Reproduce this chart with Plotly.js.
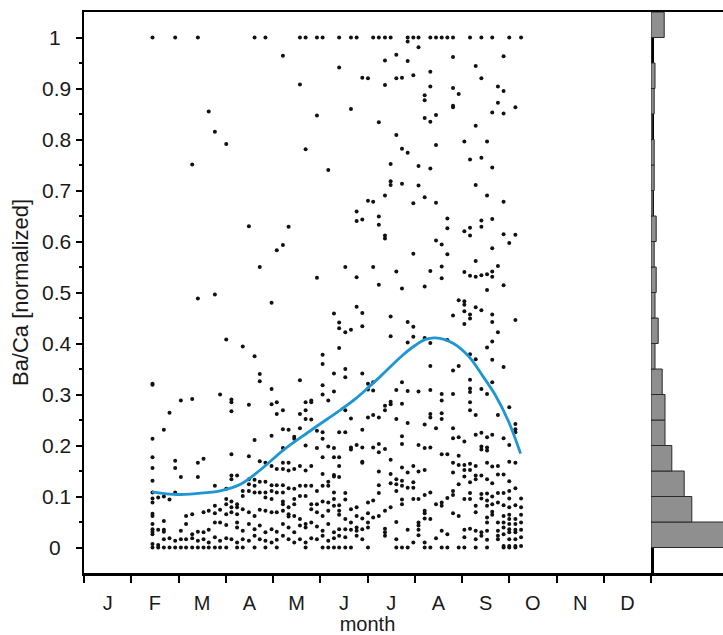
<!DOCTYPE html>
<html><head><meta charset="utf-8">
<script src="https://cdn.plot.ly/plotly-3.0.1.min.js"></script>
<style>html,body{margin:0;padding:0;background:#fff;}#chart{width:723px;height:635px;}</style>
</head><body><div id="chart"></div>
<script>
const monthLabels = ['J','F','M','A','M','J','J','A','S','O','N','D'];

// sampling positions (month, 0 = 1 Jan) and the Ba/Ca values measured at each
const sampleMonth = [1.45,1.57,1.69,1.81,1.93,2.05,2.16,2.29,2.41,2.53,2.64,2.77,2.88,3.01,3.12,3.24,3.36,3.49,3.61,3.72,3.84,3.97,4.08,4.21,4.33,4.45,4.57,4.69,4.81,4.93,5.05,5.17,5.29,5.40,5.53,5.65,5.77,5.89,6.01,6.12,6.24,6.37,6.49,6.61,6.73,6.85,6.97,7.08,7.21,7.33,7.45,7.57,7.69,7.81,7.93,8.05,8.17,8.29,8.41,8.53,8.64,8.76,8.88,9.00,9.13,9.25];
const baCaPerSample = [
 [1.0,0.321,0.319,0.213,0.177,0.156,0.131,0.108,0.096,0.088,0.066,0.062,0.046,0.036,0.031,0.026,0.007,0],
 [0.098,0.035,0.005,0],
 [0.231,0.100,0.052,0.035,0.031,0.016,0],
 [0.264,0.094,0.018,0],
 [1.0,0.170,0.156,0.108,0.013,0],
 [0.288,0.138,0.033,0.016,0],
 [0.062,0.046,0.016,0],
 [0.751,0.291,0.065,0.026,0.018,0],
 [1.0,0.488,0.166,0.138,0.031,0.013,0],
 [0.174,0.069,0.030,0.016,0],
 [0.855,0.072,0.035,0.010,0],
 [0.815,0.496,0.121,0.082,0.067,0.049,0.020,0],
 [0.300,0.074,0.049,0.013,0],
 [0.791,0.408,0.115,0.095,0.085,0.065,0.044,0.018,0],
 [0.290,0.285,0.267,0.183,0.141,0.134,0.090,0.079,0.069,0.016],
 [0.141,0.085,0.079,0.065,0.049,0.039,0.010,0],
 [0.394,0.111,0.101,0.075,0.033,0.016,0],
 [0.630,0.280,0.179,0.134,0.124,0.111,0.069,0.046,0.013],
 [1.0,0.375,0.211,0.133,0.121,0.108,0.062,0.036,0.023,0],
 [0.550,0.340,0.326,0.169,0.129,0.108,0.074,0.043,0.016],
 [1.0,0.166,0.129,0.108,0.098,0.072,0.030,0.013,0],
 [0.480,0.311,0.281,0.219,0.160,0.122,0.111,0.095,0.069,0.036,0.010],
 [0.583,0.285,0.262,0.154,0.122,0.108,0.069,0.031,0.015,0],
 [0.964,0.593,0.269,0.232,0.195,0.166,0.154,0.122,0.108,0.090,0.085,0.072,0.046,0.023],
 [0.629,0.231,0.166,0.151,0.116,0.079,0.065,0.061,0.039,0.016],
 [0.217,0.213,0.154,0.115,0.095,0.085,0.062,0.030,0.010],
 [1.0,0.908,0.328,0.262,0.234,0.160,0.121,0.101,0.056,0.043,0.016],
 [1.0,0.781,0.285,0.269,0.252,0.200,0.151,0.121,0.101,0.046,0.039,0.010,0],
 [0.288,0.285,0.251,0.160,0.121,0.085,0.075,0.049,0.018],
 [1.0,0.847,0.529,0.229,0.195,0.111,0.085,0.069,0.041,0.016],
 [1.0,0.378,0.360,0.318,0.300,0.226,0.213,0.177,0.144,0.121,0.090,0.062,0.033,0.023,0],
 [0.740,0.288,0.198,0.129,0.121,0.088,0.072,0.046,0.013,0],
 [0.459,0.341,0.306,0.195,0.177,0.142,0.139,0.108,0.095,0.082,0.030,0.018,0],
 [1.0,0.941,0.441,0.430,0.391,0.226,0.177,0.160,0.138,0.083,0.072,0.064,0.036,0.023,0],
 [0.550,0.422,0.350,0.334,0.269,0.226,0.107,0.094,0.056,0.036,0.020,0],
 [1.0,0.860,0.427,0.253,0.196,0.192,0.075,0.049,0.035,0],
 [1.0,0.659,0.640,0.530,0.472,0.201,0.079,0.062,0.039,0.033,0.023],
 [0.921,0.643,0.460,0.434,0.341,0.231,0.196,0.168,0.166,0.057,0.036,0.016],
 [0.920,0.680,0.321,0.310,0.255,0.088,0.067,0.049,0.039,0],
 [1.0,0.678,0.550,0.324,0.308,0.260,0.196,0.092,0.059],
 [1.0,0.834,0.649,0.633,0.515,0.255,0.203,0.187,0.149,0.122,0.107,0.062],
 [1.0,0.955,0.907,0.690,0.612,0.606,0.278,0.269,0.193,0.072,0.037,0.030,0.023],
 [1.0,0.752,0.718,0.711,0.453,0.414,0.286,0.281,0.172,0.144,0.126,0.079],
 [0.966,0.920,0.809,0.541,0.309,0.252,0.134,0.124,0.111,0.050,0.016,0],
 [0.921,0.782,0.713,0.508,0.324,0.282,0.218,0.203,0.157,0.131,0.121,0.094,0.085,0],
 [1.0,0.992,0.954,0.774,0.442,0.402,0.307,0.244,0.147,0.117,0.035,0],
 [1.0,0.926,0.675,0.576,0.433,0.413,0.160,0.128,0.117,0.095,0.010],
 [1.0,0.981,0.748,0.710,0.306,0.201,0.149,0.095,0.049,0.043,0.035,0.024],
 [0.887,0.877,0.842,0.687,0.512,0.411,0.241,0.195,0.152,0.103,0.072,0.067,0.057,0.010,0],
 [1.0,0.933,0.904,0.835,0.743,0.542,0.401,0.356,0.309,0.262,0.255,0.196,0.108,0.056,0],
 [1.0,0.848,0.789,0.676,0.602,0.234,0.085,0.018],
 [1.0,0.594,0.551,0.528,0.301,0.288,0.263,0.252,0.183,0.088,0.082,0.033,0],
 [1.0,0.645,0.626,0.575,0.407,0.183,0.097,0.026,0],
 [1.0,0.962,0.901,0.866,0.863,0.455,0.347,0.301,0.234,0.214,0.166,0.147,0.111,0.103,0.067],
 [0.889,0.485,0.356,0.216,0.180,0.162,0.124,0.062,0],
 [0.796,0.620,0.540,0.483,0.476,0.463,0.438,0.208,0.162,0.152,0.139,0.095,0.035,0.020,0],
 [1.0,0.761,0.627,0.612,0.533,0.457,0.449,0.379,0.329,0.312,0.305,0.285,0.269,0.164,0.152,0.128,0.107,0.095,0.037],
 [0.944,0.827,0.711,0.562,0.531,0.471,0.369,0.260,0.221,0.160,0.141,0.134,0.082,0.069,0.033,0.016,0],
 [1.0,0.920,0.764,0.641,0.629,0.534,0.465,0.311,0.225,0.198,0.192,0.141,0.105,0.096,0.030,0.023],
 [0.796,0.690,0.536,0.505,0.392,0.301,0.216,0.196,0.190,0.166,0.134,0.106,0.092,0.082,0.059,0.049,0.033,0.015,0],
 [1.0,0.853,0.745,0.644,0.587,0.541,0.531,0.457,0.442,0.404,0.368,0.324,0.221,0.159,0.126,0.100,0.085,0.070,0.064],
 [0.904,0.872,0.552,0.422,0.260,0.160,0.143,0.107,0.088,0.049,0.033,0.023,0.016],
 [0.963,0.895,0.851,0.678,0.614,0.514,0.354,0.214,0.143,0.107,0.083,0.062,0.049,0.039,0.026,0.003,0],
 [1.0,0.597,0.275,0.201,0.168,0.130,0.111,0.096,0.079,0.064,0.056,0.046,0.036,0.030,0.016,0.003,0],
 [0.863,0.613,0.446,0.242,0.232,0.226,0.166,0.116,0.083,0.056,0.046,0.035,0.030,0.016,0.003,0],
 [1.0,0.096,0.079,0.064,0.049,0.035,0.020,0.003]
];

// smoothed seasonal fit (blue line)
const fitMonth = [1.44,1.89,2.40,2.88,3.31,3.73,4.22,4.73,5.15,5.43,5.75,6.02,6.28,6.72,7.02,7.23,7.44,7.80,8.14,8.44,8.71,8.99,9.24];
const fitValue = [0.109,0.104,0.106,0.111,0.124,0.152,0.191,0.225,0.252,0.270,0.292,0.314,0.336,0.375,0.397,0.408,0.411,0.401,0.375,0.336,0.298,0.246,0.184];

// marginal histogram (bins of 0.05)
const histBinStart = [0,0.05,0.10,0.15,0.20,0.25,0.30,0.35,0.40,0.45,0.50,0.55,0.60,0.65,0.70,0.75,0.80,0.85,0.90,0.95,1.00];
const histCount    = [300,102,83,52,35,35,28,10,18,10,13,8,13,5,8,8,3,8,10,0,33];

const yTickVals = [0,0.1,0.2,0.3,0.4,0.5,0.6,0.7,0.8,0.9,1];
// labels are centred in the reference: short labels get a trailing en space
const yTickText = ['0\u2002','0.1','0.2','0.3','0.4','0.5','0.6','0.7','0.8','0.9','1\u2002'];

const xs = [], ys = [];
sampleMonth.forEach((m, i) => baCaPerSample[i].forEach(v => { xs.push(m); ys.push(v); }));

const FONT = 'Arial, "Liberation Sans", Helvetica, sans-serif';
const TXT = '#1a1a1a';
const W = 723, H = 635, ML = 84, MT = 12, MB = 62;
const split = (651 - ML) / (W - ML);

const monthEdges = [], monthCenters = [];
for (let i = 0; i <= 12; i++) monthEdges.push(i);
for (let i = 0; i < 12; i++) monthCenters.push(i + 0.5);
const yMinor = [];
for (let i = 0; i < 10; i++) yMinor.push(+(i * 0.1 + 0.05).toFixed(2));

const traces = [
  { type: 'scatter', mode: 'markers', x: xs, y: ys, xaxis: 'x', yaxis: 'y',
    marker: { size: 4, color: '#111' }, hoverinfo: 'skip' },
  { type: 'scatter', mode: 'lines', x: fitMonth, y: fitValue, xaxis: 'x', yaxis: 'y',
    line: { color: '#1e96d4', width: 2.8, shape: 'spline', smoothing: 1 } },
  { type: 'bar', orientation: 'h', x: histCount, y: histBinStart.map(b => b + 0.025),
    width: 0.05, xaxis: 'x2', yaxis: 'y',
    marker: { color: '#8f8f8f', line: { color: '#2a2a2a', width: 1 } } }
];

const layout = {
  width: W, height: H,
  margin: { l: ML, r: 0, t: MT, b: MB, pad: 0 },
  paper_bgcolor: '#fff', plot_bgcolor: '#fff',
  showlegend: false,
  font: { family: FONT, size: 20, color: TXT },
  bargap: 0,
  xaxis: {
    domain: [0, split], range: [0, 12], anchor: 'y',
    showline: true, linecolor: '#000', linewidth: 2.5, mirror: true,
    showgrid: false, zeroline: false,
    tickmode: 'array', tickvals: monthCenters, ticktext: monthLabels,
    ticks: 'outside', ticklen: 10, tickcolor: 'rgba(0,0,0,0)',
    tickfont: { family: FONT, size: 20, color: TXT },
    minor: { tickmode: 'array', tickvals: monthEdges, ticks: 'outside', ticklen: 7, tickwidth: 2, tickcolor: '#000', showgrid: false },
    title: { text: 'month', font: { family: FONT, size: 20, color: TXT }, standoff: 12 },
    automargin: false
  },
  yaxis: {
    range: [-0.05, 1.05], anchor: 'x',
    showline: true, linecolor: '#000', linewidth: 2.5, mirror: true,
    showgrid: false, zeroline: false,
    tickmode: 'array', tickvals: yTickVals, ticktext: yTickText,
    ticks: 'outside', ticklen: 6, tickwidth: 2, tickcolor: '#000',
    tickfont: { family: FONT, size: 21, color: TXT },
    minor: { tickmode: 'array', tickvals: yMinor, ticks: 'outside', ticklen: 3, tickwidth: 1.5, tickcolor: '#000', showgrid: false },
    title: { text: 'Ba/Ca [normalized]', font: { family: FONT, size: 22, color: TXT }, standoff: 8 },
    automargin: false
  },
  xaxis2: {
    domain: [split, 1], range: [0, 180], anchor: 'y',
    showline: true, linecolor: '#000', linewidth: 2.5, mirror: true,
    showgrid: false, zeroline: false, showticklabels: false, ticks: ''
  }
};

Plotly.newPlot('chart', traces, layout, { staticPlot: true, displayModeBar: false });
</script>
</body></html>
